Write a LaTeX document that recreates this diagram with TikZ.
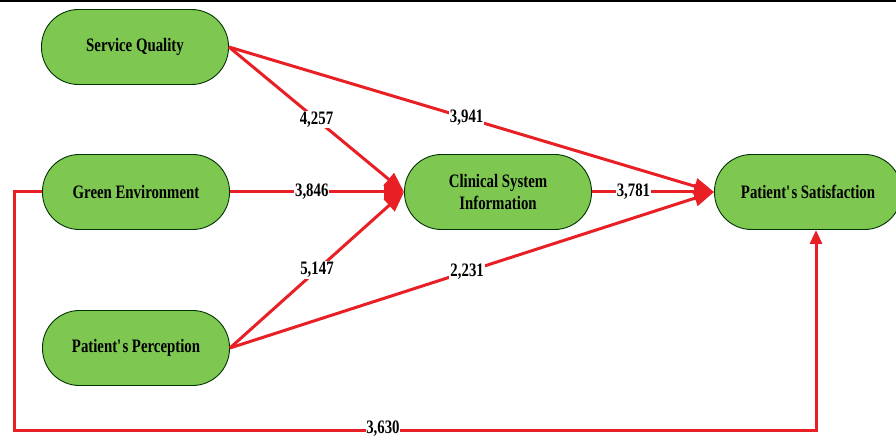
\documentclass[tikz,border=0pt]{standalone}
\usepackage{fontspec}
\setmainfont{Liberation Serif}[FakeStretch=0.78]
\usetikzlibrary{arrows.meta}
\definecolor{boxgreen}{RGB}{126,200,82}
\definecolor{linered}{RGB}{232,32,38}
\tikzset{
  box/.style={draw=black!80!green, line width=0.9pt, fill=boxgreen, rounded corners=37pt,
    minimum width=187pt, minimum height=75pt, align=center, inner sep=0pt,
    font=\fontsize{19}{22}\selectfont\bfseries},
  link/.style={draw=linered, line width=3pt, -{Triangle[length=20pt,width=16pt]}},
  lab/.style={fill=white, inner sep=1pt, font=\fontsize{19}{22}\selectfont\bfseries}
}
\begin{document}
\begin{tikzpicture}[x=1pt,y=-1pt]
\useasboundingbox (0,0) rectangle (896,438);
\draw[line width=1.5pt] (0,1) -- (896,1);
\node[box] (sq) at (135,47) {Service Quality};
\node[box] (ge) at (136,192) {Green Environment};
\node[box] (pp) at (136,348) {Patient\textquotesingle s Perception};
\node[box] (csi) at (498,192) {Clinical System\\Information};
\node[box] (ps) at (808,192) {Patient\textquotesingle s Satisfaction};
\coordinate (c1) at (14,192);
\coordinate (c2) at (14,430);
\coordinate (c3) at (816,430);
\coordinate (psb) at (816,230);
\draw[link] (sq.east) -- node[lab, pos=0.5] {4,257} (csi.west);
\draw[link] (sq.east) -- node[lab, pos=0.49] {3,941} (ps.west);
\draw[link] (ge.east) -- node[lab, pos=0.47] {3,846} (csi.west);
\draw[link] (pp.east) -- node[lab, pos=0.5] {5,147} (csi.west);
\draw[link] (pp.east) -- node[lab, pos=0.49] {2,231} (ps.west);
\draw[link] (csi.east) -- node[lab, pos=0.34] {3,781} (ps.west);
\draw[link, -{Triangle[length=14pt,width=12pt]}] (ge.west) -- (c1) -- (c2) -- node[lab, pos=0.46, inner sep=0pt, yshift=1.5pt] {3,630} (c3) -- (psb);
\end{tikzpicture}
\end{document}
